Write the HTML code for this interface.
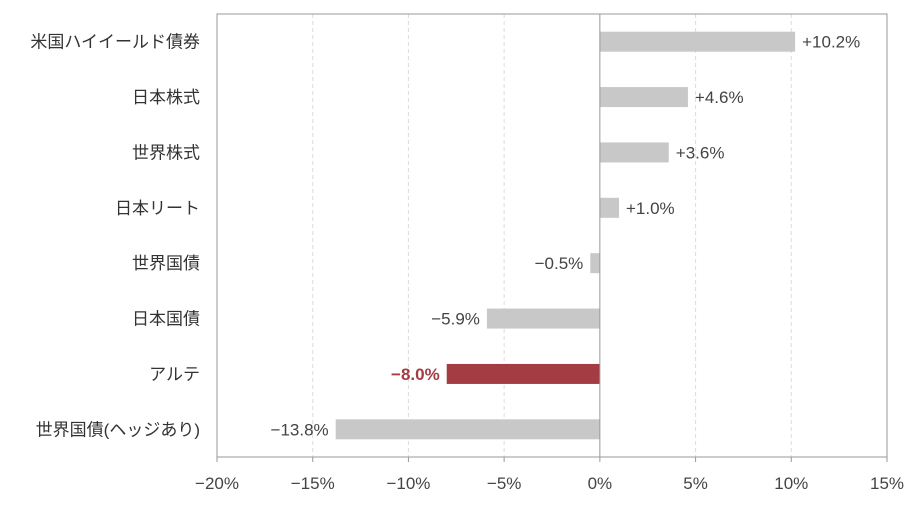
<!DOCTYPE html>
<html><head><meta charset="utf-8"><style>
body{margin:0;background:#fff;}
text{font-family:"Liberation Sans","Noto Sans CJK JP",sans-serif;}
</style></head><body>
<svg width="922" height="501" id="c"></svg>
<script>
const categories=["米国ハイイールド債券","日本株式","世界株式","日本リート","世界国債","日本国債","アルテ","世界国債(ヘッジあり)"];
const values=[10.2,4.6,3.6,1.0,-0.5,-5.9,-8.0,-13.8];
const valueLabels=["+10.2%","+4.6%","+3.6%","+1.0%","−0.5%","−5.9%","−8.0%","−13.8%"];
const ticks=[-20,-15,-10,-5,0,5,10,15];
const tickLabels=["−20%","−15%","−10%","−5%","0%","5%","10%","15%"];
const highlight=6;
const L=217,R=887,T=14,B=457;
const x=v=>L+(v+20)/35*(R-L);
const band=(B-T)/categories.length;
const y=i=>T+band*(i+0.5);
const svg=document.getElementById('c');
const NS="http://www.w3.org/2000/svg";
function mk(t,a,p){const e=document.createElementNS(NS,t);for(const k in a)e.setAttribute(k,a[k]);(p||svg).appendChild(e);return e;}
ticks.forEach((t,i)=>{
 if(t!==0&&t!==-20&&t!==15){const g=mk('line',{x1:x(t),x2:x(t),y1:T,y2:B,stroke:'#ddd','stroke-dasharray':'4,3'});
 
 }
 const tk=mk('line',{x1:x(t),x2:x(t),y1:B,y2:B+5,stroke:'#999'});
 
 
 const tl=mk('text',{x:x(t),y:489,'text-anchor':'middle','font-size':17,fill:'#444'});
 tl.textContent=tickLabels[i];
 
 
});
const fr=mk('rect',{x:L,y:T,width:R-L,height:B-T,fill:'none',stroke:'#999'});


categories.forEach((c,i)=>{
 const v=values[i],hi=i===highlight;
 const b=mk('rect',{x:Math.min(x(0),x(v)),y:y(i)-10,width:Math.abs(x(v)-x(0)),height:20,fill:hi?'#a33d43':'#c8c8c8'});
 
 
 const lbl=mk('text',{x:v>=0?x(v)+7:x(v)-7,y:y(i)+6,'text-anchor':v>=0?'start':'end','font-size':17,fill:hi?'#a33d43':'#444','font-weight':hi?'bold':'normal'});
 lbl.textContent=valueLabels[i];
 
 
 const cl=mk('text',{x:200,y:y(i)+6,'text-anchor':'end','font-size':17,fill:'#333'});
 cl.textContent=c;
 
 
});
const z=mk('line',{x1:x(0),x2:x(0),y1:T,y2:B,stroke:'#999'});


</script>
</body></html>
